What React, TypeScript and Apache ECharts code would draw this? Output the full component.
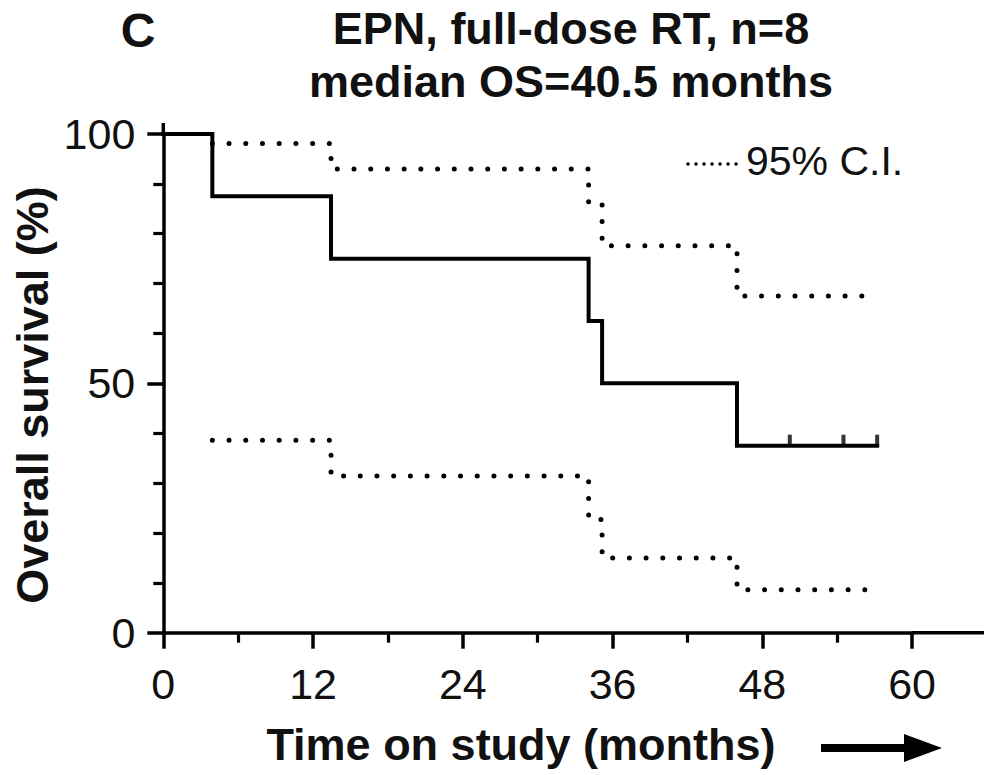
import React, { useEffect, useRef } from "react";
import * as echarts from "echarts";

// ---- data ----
const xTickLabels = [0, 12, 24, 36, 48, 60];
const yTickLabels = [0, 50, 100];

const kmTime = [0, 3.93, 13.44, 34.08, 35.16, 45.97, 57.2];
const kmSurvival = [100, 87.5, 75, 62.5, 50, 37.5, 37.5];

const ciTime = [3.93, 13.44, 34.08, 35.16, 45.97, 57.2];
const ciUpper = [98.1, 93.0, 86.0, 77.6, 67.5, 67.5];
const ciLower = [38.6, 31.4, 22.7, 15.0, 8.6, 8.6];

const censorTime = [50.2, 54.5, 57.2];
const censorSurvival = [37.5, 37.5, 37.5];

const titleLine1 = "EPN, full-dose RT, n=8";
const titleLine2 = "median OS=40.5 months";
const panelLetter = "C";
const xTitle = "Time on study (months)";
const yTitle = "Overall survival (%)";
const legendLabel = "95% C.I.";

const FONT = "'Liberation Sans', Arial, Helvetica, sans-serif";
const INK = "#000";
const TEXT = "#111";

const zip = (a: number[], b: number[]) => a.map((v, i) => [v, b[i]]);

export default function App() {
  const ref = useRef<HTMLDivElement>(null);

  useEffect(() => {
    if (!ref.current) return;
    const chart = echarts.init(ref.current, undefined, { renderer: "svg" });

    const dotted = {
      color: INK,
      width: 5,
      type: [0.01, 16.7] as number[],
      cap: "round" as const,
    };

    chart.setOption({
      animation: false,
      backgroundColor: "#fff",
      grid: { left: 163.3, top: 134, width: 748.8, height: 498.7 },
      xAxis: {
        type: "value",
        min: 0,
        max: 60,
        interval: 12,
        axisLine: { show: true, lineStyle: { color: INK, width: 3.5 } },
        axisTick: { show: true, length: 16, lineStyle: { color: INK, width: 3.5 } },
        minorTick: { show: true, splitNumber: 2, length: 10, lineStyle: { color: INK, width: 3.2 } },
        splitLine: { show: false },
        axisLabel: {
          margin: 30,
          fontSize: 43,
          fontFamily: FONT,
          color: TEXT,
          formatter: (v: number) => (xTickLabels.includes(v) ? String(v) : ""),
        },
      },
      yAxis: {
        type: "value",
        min: 0,
        max: 100,
        interval: 50,
        axisLine: { show: true, lineStyle: { color: INK, width: 3.5 } },
        axisTick: { show: true, length: 16, lineStyle: { color: INK, width: 3.5 } },
        minorTick: { show: true, splitNumber: 5, length: 10, lineStyle: { color: INK, width: 3.2 } },
        splitLine: { show: false },
        axisLabel: {
          margin: 28,
          fontSize: 43,
          fontFamily: FONT,
          color: TEXT,
          formatter: (v: number) => (yTickLabels.includes(v) ? String(v) : ""),
        },
      },
      series: [
        {
          name: "Upper 95% C.I.",
          type: "line",
          step: "end",
          symbol: "none",
          data: zip(ciTime, ciUpper),
          lineStyle: dotted,
          z: 3,
        },
        {
          name: "Lower 95% C.I.",
          type: "line",
          step: "end",
          symbol: "none",
          data: zip(ciTime, ciLower),
          lineStyle: dotted,
          z: 3,
        },
        {
          name: "Overall survival",
          type: "line",
          step: "end",
          symbol: "none",
          data: zip(kmTime, kmSurvival),
          lineStyle: { color: INK, width: 4, cap: "square", join: "miter" },
          z: 4,
        },
        {
          name: "Censored",
          type: "scatter",
          symbol: "rect",
          symbolSize: [4, 12],
          symbolOffset: [0, -5],
          itemStyle: { color: INK },
          data: zip(censorTime, censorSurvival),
          z: 5,
        },
      ],
    });

    const top = chart.convertToPixel({ gridIndex: 0 }, [0, 100]) as number[];
    const end = chart.convertToPixel({ gridIndex: 0 }, [60, 0]) as number[];

    chart.setOption({
      graphic: [
        {
          type: "line",
          id: "yStub",
          shape: { x1: top[0], y1: top[1], x2: top[0], y2: top[1] - 11 },
          style: { stroke: INK, lineWidth: 3.5 },
        },
        {
          type: "line",
          id: "xStub",
          shape: { x1: end[0], y1: end[1], x2: 990, y2: end[1] },
          style: { stroke: INK, lineWidth: 3.5 },
        },
        {
          type: "text",
          id: "letter",
          x: 138,
          y: 30,
          style: {
            text: panelLetter,
            font: `bold 48px ${FONT}`,
            fill: TEXT,
            textAlign: "center",
            textVerticalAlign: "middle",
          },
        },
        {
          type: "text",
          id: "t1",
          x: 571,
          y: 28,
          style: {
            text: titleLine1,
            font: `bold 45px ${FONT}`,
            fill: TEXT,
            textAlign: "center",
            textVerticalAlign: "middle",
          },
        },
        {
          type: "text",
          id: "t2",
          x: 571,
          y: 81,
          style: {
            text: titleLine2,
            font: `bold 45px ${FONT}`,
            fill: TEXT,
            textAlign: "center",
            textVerticalAlign: "middle",
          },
        },
        {
          type: "text",
          id: "ytitle",
          x: 32,
          y: 395,
          rotation: Math.PI / 2,
          style: {
            text: yTitle,
            font: `bold 45px ${FONT}`,
            fill: TEXT,
            textAlign: "center",
            textVerticalAlign: "middle",
          },
        },
        {
          type: "text",
          id: "xtitle",
          x: 521,
          y: 744,
          style: {
            text: xTitle,
            font: `bold 45px ${FONT}`,
            fill: TEXT,
            textAlign: "center",
            textVerticalAlign: "middle",
          },
        },
        {
          type: "line",
          id: "arrowShaft",
          shape: { x1: 821, y1: 748, x2: 912, y2: 748 },
          style: { stroke: INK, lineWidth: 8 },
        },
        {
          type: "polygon",
          id: "arrowHead",
          shape: { points: [[904, 734], [942, 748], [904, 762]] },
          style: { fill: INK },
        },
        {
          type: "line",
          id: "legendLine",
          shape: { x1: 688, y1: 164, x2: 737, y2: 164 },
          style: { stroke: INK, lineWidth: 3.5, lineDash: [0.01, 8], lineCap: "round" },
        },
        {
          type: "text",
          id: "legendText",
          x: 746,
          y: 161,
          style: {
            text: legendLabel,
            font: `41px ${FONT}`,
            fill: TEXT,
            textAlign: "left",
            textVerticalAlign: "middle",
          },
        },
      ],
    });

    return () => chart.dispose();
  }, []);

  return (
    <div
      ref={ref}
      style={{ position: "absolute", left: 0, top: 0, width: 984, height: 775, background: "#fff" }}
    />
  );
}
